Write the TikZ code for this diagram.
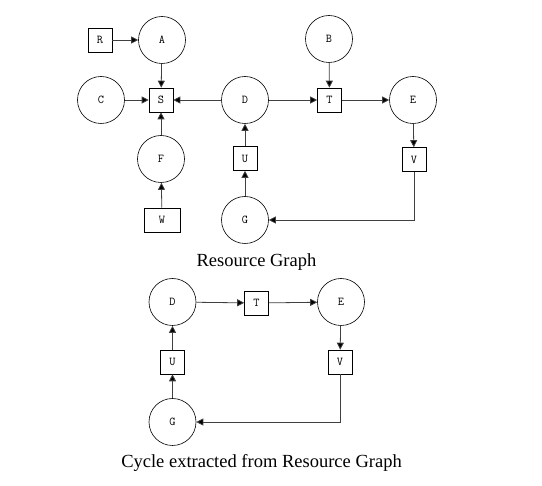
\documentclass[tikz,border=0pt]{standalone}
\usepackage{fontspec}
\setmainfont{Liberation Serif}
\usetikzlibrary{arrows.meta}
\tikzset{
  proceso/.style={circle, draw, line width=0.6pt, minimum size=47pt, inner sep=0pt, font=\ttfamily\fontsize{12}{12}\selectfont},
  recurso/.style={rectangle, draw, line width=0.6pt, minimum width=24pt, minimum height=24pt, inner sep=0pt, font=\ttfamily\fontsize{12}{12}\selectfont},
  flecha/.style={draw=black!75, line width=0.8pt, -{Triangle[length=7pt,width=7pt,fill=black]}},
  titulo/.style={font=\fontsize{18.5}{21}\selectfont}
}
\begin{document}
\begin{tikzpicture}[x=1pt,y=-1pt]
  \useasboundingbox (0,0) rectangle (542,486);
  % Grafo de recursos
  \node[recurso] (R) at (100,40) {R};
  \node[proceso] (A) at (162,40) {A};
  \node[proceso] (B) at (329,39) {B};
  \node[proceso] (C) at (101,100) {C};
  \node[recurso] (S) at (161,100) {S};
  \node[proceso] (D) at (245,100) {D};
  \node[recurso] (T) at (329.5,100) {T};
  \node[proceso] (E) at (413,100) {E};
  \node[proceso] (F) at (161,159) {F};
  \node[recurso] (U) at (245,158.5) {U};
  \node[recurso] (V) at (414,159.5) {V};
  \node[recurso, minimum width=36pt] (W) at (162,220) {W};
  \node[proceso] (G) at (245,220) {G};
  % Aristas
  \draw[flecha] (R) -- (A);
  \draw[flecha] (A) -- (S);
  \draw[flecha] (C) -- (S);
  \draw[flecha] (D) -- (S);
  \draw[flecha] (F) -- (S);
  \draw[flecha] (W) -- (F);
  \draw[flecha] (D) -- (T);
  \draw[flecha] (B) -- (T);
  \draw[flecha] (T) -- (E);
  \draw[flecha] (E) -- (V);
  \draw[flecha] (V) |- (G);
  \draw[flecha] (G) -- (U);
  \draw[flecha] (U) -- (D);
  \node[titulo] (tit1) at (256.5,262) {Resource Graph};
  % Ciclo extraido
  \node[proceso] (D2) at (172.5,302) {D};
  \node[recurso] (T2) at (256.5,303) {T};
  \node[proceso] (E2) at (341,302) {E};
  \node[recurso] (U2) at (172.5,362) {U};
  \node[recurso] (V2) at (340,362) {V};
  \node[proceso] (G2) at (172.5,422) {G};
  \draw[flecha] (D2) -- (T2);
  \draw[flecha] (T2) -- (E2);
  \draw[flecha] (E2) -- (V2);
  \draw[flecha] (V2) |- (G2);
  \draw[flecha] (G2) -- (U2);
  \draw[flecha] (U2) -- (D2);
  \node[titulo] (tit2) at (261.5,463) {Cycle extracted from Resource Graph};
\end{tikzpicture}
\end{document}
